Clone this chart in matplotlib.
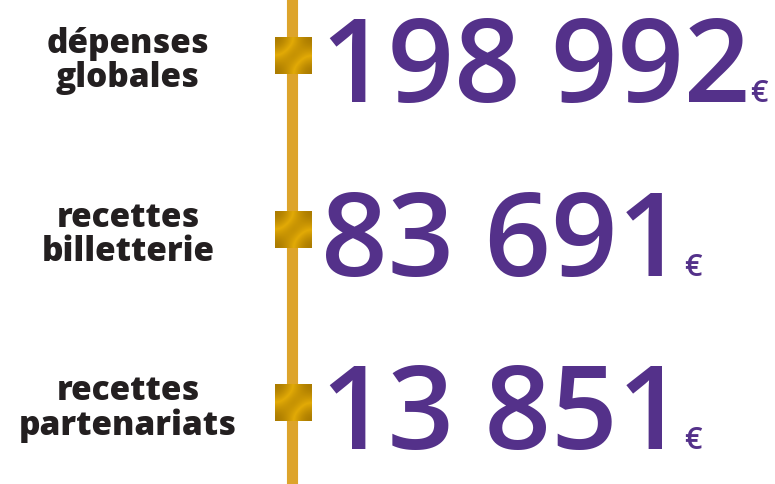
import matplotlib
matplotlib.use("Agg")
import matplotlib.pyplot as plt
import numpy as np

# chart data
labels = ["dépenses\nglobales", "recettes\nbilletterie", "recettes\npartenariats"]
values = [198992, 83691, 13851]
unit = "€"

purple = "#54318A"
gold = "#DDA42B"
ink = "#231F20"

fig = plt.figure(figsize=(7.75, 4.85), dpi=100)
ax = fig.add_axes([0, 0, 1, 1])
ax.set_xlim(0, 775)
# rows sit at 0, 1, 2 ; one row = ~173.5 px
ax.set_ylim(2.467, -0.3285)
ax.axis("off")

rows = np.arange(len(values))

# vertical gold rule
ax.axvline(291.5, color=gold, lw=8, zorder=1)

# gradient squares on the rule
grad = np.array([[0.0, 0.5, 1.0], [0.5, 1.0, 0.5], [1.0, 0.5, 0.0]])
gcmap = matplotlib.colors.LinearSegmentedColormap.from_list("g", ["#A77800", "#E2AA06", "#A77800"])
half_w = 18.5
half_h = 18.5 / 173.5
for r in rows:
    ax.imshow(grad, cmap=gcmap, interpolation="bicubic", aspect="auto",
              extent=(293.5 - half_w, 293.5 + half_w, r + half_h, r - half_h), zorder=2)

for r, lab, v in zip(rows, labels, values):
    ax.text(128, r + 0.025, lab, ha="center", va="center", fontsize=24,
            family="Open Sans", fontweight="heavy", color=ink, linespacing=1.0)
    t = ax.text(321, r + 0.26, f"{v:,}".replace(",", " "), ha="left", va="baseline",
                fontsize=84, family="Open Sans", fontweight="semibold", color=purple)
    ax.annotate(unit, xy=(1, r + 0.26), xycoords=(t, "data"), xytext=(0, 0),
                textcoords="offset points", ha="left", va="baseline",
                fontsize=22, family="Open Sans", fontweight="semibold", color=purple)

ax.set_xlim(0, 775)
ax.set_ylim(2.467, -0.3285)
fig.savefig("out.png", dpi=100, facecolor="white")
